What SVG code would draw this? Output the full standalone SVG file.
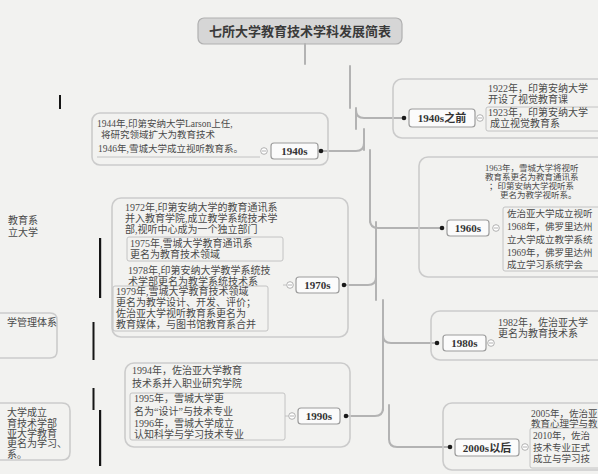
<svg xmlns="http://www.w3.org/2000/svg" width="598" height="474" viewBox="0 0 598 474">
<style>
.trunk{fill:none;stroke:#b3b3b3;stroke-width:2;stroke-linecap:round}
.cont{fill:none;stroke:#cbcbcb;stroke-width:1.6}
.ibox{fill:none;stroke:#bdbdbd;stroke-width:0.9}
.node rect{fill:#fbfbfb;stroke:#9c9c9c;stroke-width:1.2}
.nt{font-family:"Liberation Serif","Noto Sans CJK SC",serif;font-size:11px;font-weight:bold;fill:#333;text-anchor:middle}
.dt{font-family:"Liberation Serif","Noto Sans CJK SC",serif;font-size:10px;fill:#4a4a4a}
.sm{font-size:9.5px}
.xs{font-size:8.5px}
.dot{fill:#1a1a1a}
.col{fill:#fff;stroke:#a8a8a8;stroke-width:0.9}
.colm{stroke:#a8a8a8;stroke-width:0.9}
.blk{fill:#151515}
</style>
<rect width="598" height="474" fill="#f2f2f0"/>

<g id="title">
<rect x="198" y="18" width="204" height="26" rx="6" fill="#d6d6d6" stroke="#b0b0b0" stroke-width="1.2"/>
<text x="300" y="36" font-family="'Liberation Serif','Noto Sans CJK SC',serif" font-size="13" font-weight="bold" fill="#3a3a3a" text-anchor="middle">七所大学教育技术学科发展简表</text>
</g>

<g id="connectors">
<path class="trunk" d="M305,44 V64"/>
<path class="trunk" d="M350,66 V108"/>
<path class="trunk" d="M356,108 V129"/>
<path class="trunk" d="M364,129 V150"/>
<path class="trunk" d="M370,150 V222"/>
<path class="trunk" d="M376,222 V300"/>
<path class="trunk" d="M383,300 V410"/>
<path class="trunk" d="M389,405 V439"/>
<path class="trunk" d="M356,110 Q356,118 364,118 H404"/>
<path class="trunk" d="M364,143 Q364,151 356,151 H321"/>
<path class="trunk" d="M370,220 Q370,228 378,228 H442"/>
<path class="trunk" d="M376,277 Q376,285 368,285 H344"/>
<path class="trunk" d="M383,335 Q383,343 391,343 H437"/>
<path class="trunk" d="M383,408 Q383,416 375,416 H346"/>
<path class="trunk" d="M389,439 Q389,447 397,447 H450"/>
</g>

<g id="n1940a">
<rect class="cont" x="393" y="79" width="220" height="59" rx="9"/>
<g class="node"><rect x="409" y="109" width="66" height="18" rx="3"/></g>
<text class="nt" x="442" y="122">1940s之前</text>
<circle class="dot" cx="404" cy="118" r="2.3"/>
<circle class="col" cx="480" cy="118" r="3.3"/><line class="colm" x1="478" y1="118" x2="482" y2="118"/>
<rect class="ibox" x="486" y="107" width="120" height="24" rx="2"/>
<text class="dt" x="488" y="92">1922年，印第安纳大学</text>
<text class="dt" x="488" y="103">开设了视觉教育课</text>
<text class="dt" x="488" y="116">1923年，印第安纳大学</text>
<text class="dt" x="490" y="127">成立视觉教育系</text>
</g>

<g id="n1940">
<rect class="cont" x="92" y="113" width="236" height="52" rx="8"/>
<g class="node"><rect x="271" y="143" width="47" height="16" rx="3"/></g>
<text class="nt" x="294.5" y="155">1940s</text>
<circle class="dot" cx="321" cy="151" r="2.3"/>
<circle class="col" cx="264" cy="151" r="3.3"/><line class="colm" x1="262" y1="151" x2="266" y2="151"/>
<line class="ibox" x1="97" y1="157" x2="260" y2="157"/>
<text class="dt sm" x="97" y="127">1944年,印第安纳大学Larson上任,</text>
<text class="dt sm" x="101" y="138">将研究领域扩大为教育技术</text>
<text class="dt sm" x="98" y="152">1946年,雪城大学成立视听教育系。</text>
</g>

<g id="n1960">
<rect class="cont" x="419" y="157" width="200" height="120" rx="9"/>
<g class="node"><rect x="447" y="220" width="42" height="16" rx="3"/></g>
<text class="nt" x="468" y="232">1960s</text>
<circle class="dot" cx="442" cy="228" r="2.3"/>
<circle class="col" cx="496" cy="228" r="3.3"/><line class="colm" x1="494" y1="228" x2="498" y2="228"/>
<rect class="ibox" x="503" y="207" width="110" height="64" rx="2"/>
<text class="dt xs" x="485" y="171">1963年，雪城大学将视听</text>
<text class="dt xs" x="485" y="180">教育系更名为教育通讯系</text>
<text class="dt xs" x="489" y="189">；印第安纳大学视听系</text>
<text class="dt xs" x="500" y="198">更名为教学视听系。</text>
<text class="dt sm" x="507" y="216.5">佐治亚大学成立视听</text>
<text class="dt sm" x="507" y="229.5">1968年，佛罗里达州</text>
<text class="dt sm" x="507" y="242.5">立大学成立教学系统</text>
<text class="dt sm" x="507" y="255.5">1969年，佛罗里达州</text>
<text class="dt sm" x="507" y="267.5">成立学习系统学会</text>
</g>

<g id="n1970">
<rect class="cont" x="112" y="198" width="236" height="139" rx="9"/>
<g class="node"><rect x="296" y="277" width="43" height="16" rx="3"/></g>
<text class="nt" x="317.5" y="289">1970s</text>
<circle class="dot" cx="344" cy="285" r="2.3"/>
<circle class="col" cx="290" cy="285" r="3.3"/><line class="colm" x1="288" y1="285" x2="292" y2="285"/>
<line class="ibox" x1="283" y1="285" x2="286.7" y2="285"/>
<rect class="ibox" x="127" y="237" width="156" height="24" rx="2"/>
<rect class="ibox" x="113" y="286" width="155" height="45" rx="2"/>
<text class="dt" x="125" y="210.5">1972年,印第安纳大学的教育通讯系</text>
<text class="dt" x="125" y="221.5">并入教育学院,成立教学系统技术学</text>
<text class="dt" x="125" y="233">部,视听中心成为一个独立部门</text>
<text class="dt" x="130" y="246.5">1975年,雪城大学教育通讯系</text>
<text class="dt" x="130" y="258">更名为教育技术领域</text>
<text class="dt" x="128" y="273.5">1978年,印第安纳大学教学系统技</text>
<text class="dt" x="128" y="284.5">术学部更名为教学系统技术系</text>
<text class="dt" x="116" y="295">1979年,雪城大学教育技术领域</text>
<text class="dt" x="116" y="306">更名为教学设计、开发、评价；</text>
<text class="dt" x="116" y="317">佐治亚大学视听教育系更名为</text>
<text class="dt" x="116" y="328">教育媒体，与图书馆教育系合并</text>
</g>

<g id="n1980">
<rect class="cont" x="431" y="311" width="180" height="49" rx="9"/>
<g class="node"><rect x="443" y="335" width="43" height="16" rx="3"/></g>
<text class="nt" x="464.5" y="347">1980s</text>
<circle class="dot" cx="437" cy="343" r="2.3"/>
<circle class="col" cx="491" cy="343" r="3.3"/><line class="colm" x1="489" y1="343" x2="493" y2="343"/>
<text class="dt" x="498" y="325.5">1982年，佐治亚大学</text>
<text class="dt" x="498" y="336.5">更名为教育技术系</text>
</g>

<g id="n1990">
<rect class="cont" x="125" y="363" width="225" height="84" rx="9"/>
<g class="node"><rect x="298" y="408" width="42" height="16" rx="3"/></g>
<text class="nt" x="319" y="420">1990s</text>
<circle class="dot" cx="346" cy="416" r="2.3"/>
<circle class="col" cx="292" cy="416" r="3.3"/><line class="colm" x1="290" y1="416" x2="294" y2="416"/>
<line class="ibox" x1="285" y1="416" x2="288.7" y2="416"/>
<rect class="ibox" x="130" y="393" width="155" height="47" rx="2"/>
<text class="dt" x="132" y="373.5">1994年，佐治亚大学教育</text>
<text class="dt" x="132" y="386.5">技术系并入职业研究学院</text>
<text class="dt" x="134" y="402">1995年，雪城大学更</text>
<text class="dt" x="134" y="415">名为“设计”与技术专业</text>
<text class="dt" x="134" y="426.5">1996年，雪城大学成立</text>
<text class="dt" x="134" y="438">认知科学与学习技术专业</text>
</g>

<g id="n2000">
<rect class="cont" x="443" y="403" width="170" height="67" rx="9"/>
<g class="node"><rect x="455" y="439" width="64" height="17" rx="3"/></g>
<text class="nt" x="487" y="451.5">2000s以后</text>
<circle class="dot" cx="450" cy="447" r="2.3"/>
<circle class="col" cx="525" cy="447" r="3.3"/><line class="colm" x1="523" y1="447" x2="527" y2="447"/>
<rect class="ibox" x="530" y="428" width="80" height="40" rx="2"/>
<text class="dt sm" x="531" y="416.5">2005年，佐治亚</text>
<text class="dt sm" x="531" y="426.5">教育心理学与教</text>
<text class="dt sm" x="533" y="438.5">2010年，佐治</text>
<text class="dt sm" x="533" y="450.5">技术专业正式</text>
<text class="dt sm" x="533" y="461.5">成立与学习技</text>
</g>

<g id="left-cut">
<path class="cont" d="M0,313 H50 Q57,313 57,320 V351 Q57,358 50,358 H0"/>
<path class="cont" d="M0,403 H62 Q70,403 70,411 V452 Q70,460 62,460 H0"/>
<text class="dt" x="8" y="224">教育系</text>
<text class="dt" x="8" y="236">立大学</text>
<text class="dt" x="7" y="326">学管理体系</text>
<text class="dt" x="7" y="416">大学成立</text>
<text class="dt" x="7" y="426.5">育技术学部</text>
<text class="dt" x="7" y="437">亚大学教育</text>
<text class="dt" x="7" y="447">更名为学习、</text>
<text class="dt" x="7" y="458">系。</text>
</g>

<g id="scan-marks">
<rect class="blk" x="99" y="238" width="2.2" height="60"/>
<rect class="blk" x="92.5" y="322" width="2" height="38"/>
<rect class="blk" x="92.5" y="388" width="2" height="22"/>
<rect class="blk" x="99" y="410" width="2.2" height="56"/>
<rect class="blk" x="59" y="95" width="2" height="14"/>
</g>
</svg>
